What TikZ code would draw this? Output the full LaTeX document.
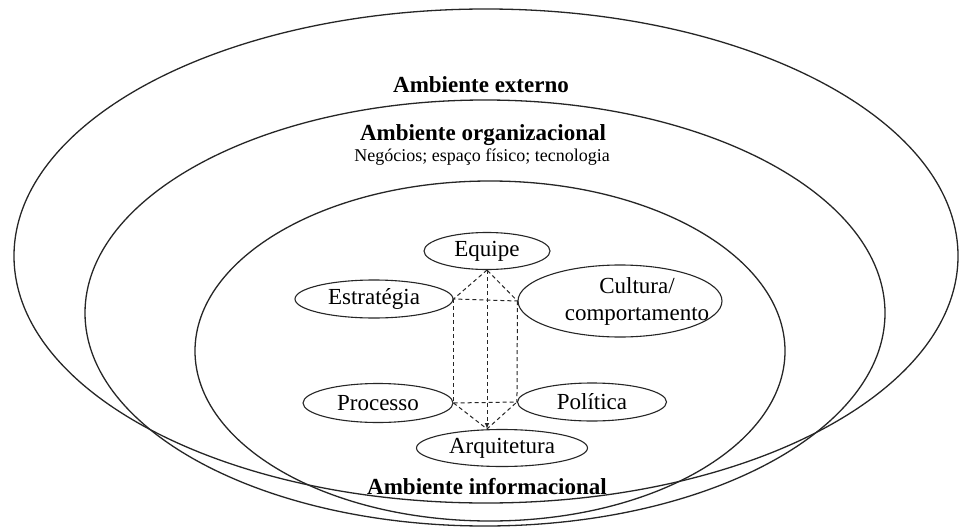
\documentclass[tikz,border=0pt]{standalone}
\usepackage{fontspec}
\setmainfont{Liberation Serif}
\usepackage{tikz}
\usetikzlibrary{calc, shapes.geometric, positioning}

\begin{document}
\begin{tikzpicture}[>=latex, x=1pt, y=-1pt,
    vong/.style={line width=1.3pt, draw=black!85},
    thanh/.style={ellipse, draw=black!85, line width=1.1pt, inner sep=0pt,
        font=\fontsize{23}{27}\selectfont},
    netdut/.style={dash pattern=on 4pt off 3pt, line width=1pt, draw=black!85},
    tieude/.style={anchor=base, font=\fontsize{23}{27}\selectfont\bfseries}]
    \fill[white] (0,0) rectangle (960,532);

    % Vẽ ba vùng
    \draw[vong] (486,256) ellipse [x radius=472pt, y radius=247pt];
    \draw[vong] (485,313) ellipse [x radius=400pt, y radius=213pt];
    \draw[vong] (490,351) ellipse [x radius=295pt, y radius=170pt];

    % Tiêu đề các vùng
    \node[tieude] (externo) at (481,93) {Ambiente externo};
    \node[tieude] (organizacional) at (483,140) {Ambiente organizacional};
    \node[anchor=base, font=\fontsize{18}{21}\selectfont] (negocios) at (482,161)
        {Negócios; espaço físico; tecnologia};
    \node[tieude] (informacional) at (487,494) {Ambiente informacional};

    % Các thành phần
    \node[thanh, minimum width=126pt, minimum height=37pt] (equipe) at (487,251) {Equipe};
    \node[thanh, minimum width=158pt, minimum height=38pt] (estrategia) at (374,299) {Estratégia};
    \node[thanh, minimum width=204pt, minimum height=72pt,
        label={[font=\fontsize{23}{27}\selectfont, align=center, xshift=17pt]center:{Cultura/\\comportamento}}]
        (cultura) at (620,301) {};
    \node[thanh, minimum width=150pt, minimum height=39pt] (processo) at (378,403) {Processo};
    \node[thanh, minimum width=149pt, minimum height=38pt] (politica) at (592,402) {Política};
    \node[thanh, minimum width=171pt, minimum height=37pt] (arquitetura) at (502,448) {Arquitetura};

    % Nét đứt
    \coordinate (dinh) at (equipe.south |- arquitetura.north);
    \draw[netdut] (equipe.south) -- (estrategia.east) -- (cultura.west) -- cycle;
    \draw[netdut] (estrategia.east) -- (processo.east);
    \draw[netdut] (cultura.west) -- (politica.west);
    \draw[netdut] (processo.east) -- (politica.west);
    \draw[netdut] (processo.east) -- (dinh) -- (politica.west);
    \draw[netdut, ->] (equipe.south) -- (dinh);

\end{tikzpicture}
\end{document}
